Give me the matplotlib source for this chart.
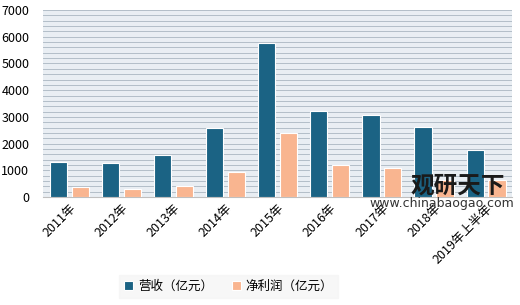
import numpy as np
import matplotlib.pyplot as plt

plt.rcParams['font.family'] = ['Noto Sans CJK SC', 'DejaVu Sans']

# data
years = ["2011年", "2012年", "2013年", "2014年", "2015年", "2016年", "2017年", "2018年", "2019年上半年"]
revenue = [1320, 1270, 1570, 2580, 5770, 3230, 3080, 2620, 1760]
profit = [370, 300, 410, 940, 2400, 1200, 1090, 620, 640]

blue = "#1b6384"
orange = "#f9b590"

fig = plt.figure(figsize=(5.2, 3.05), dpi=100)
ax = fig.add_axes([0.083, 0.354, 0.902, 0.613])
ax.set_facecolor("#e9eef3")

x = np.arange(len(years))
w = 0.33
ax.bar(x - 0.21, revenue, w, color=blue, edgecolor="white", linewidth=0.8,
       label="营收（亿元）", zorder=3)
ax.bar(x + 0.21, profit, w, color=orange, edgecolor="white", linewidth=0.8,
       label="净利润（亿元）", zorder=3)

ax.set_xlim(-0.5, len(years) - 0.5)
ax.set_ylim(0, 7000)
ax.set_yticks(np.arange(0, 7001, 1000))
ax.set_yticks(np.arange(0, 7001, 200), minor=True)
ax.yaxis.grid(True, which="both", color="#b3bec8", linewidth=0.7, zorder=0)
ax.tick_params(axis="y", which="both", length=0, labelsize=9, pad=10)
ax.tick_params(axis="x", length=0, labelsize=9)
ax.set_xticks(x)
ax.set_xticklabels(years, rotation=45, ha="right", rotation_mode="anchor")
for s in ["top", "right", "left"]:
    ax.spines[s].set_visible(False)
ax.spines["bottom"].set_color("#bfbfbf")

# watermark
fig.text(0.88, 0.393, "观研天下", fontsize=17, fontweight="bold", color="#1a1a1a",
         ha="center", va="center")
fig.text(0.85, 0.332, "www.chinabaogao.com", fontsize=9, color="#333333",
         ha="center", va="center", family="DejaVu Sans")

leg = fig.legend(loc="center", bbox_to_anchor=(0.44, 0.06), ncol=2, frameon=True,
                 fontsize=9, handlelength=0.7, handleheight=0.7, columnspacing=1.5,
                 fancybox=False, handletextpad=0.4)
leg.get_frame().set_facecolor("#f5f5f5")
leg.get_frame().set_edgecolor("#f5f5f5")

fig.savefig("out.png", dpi=100)
